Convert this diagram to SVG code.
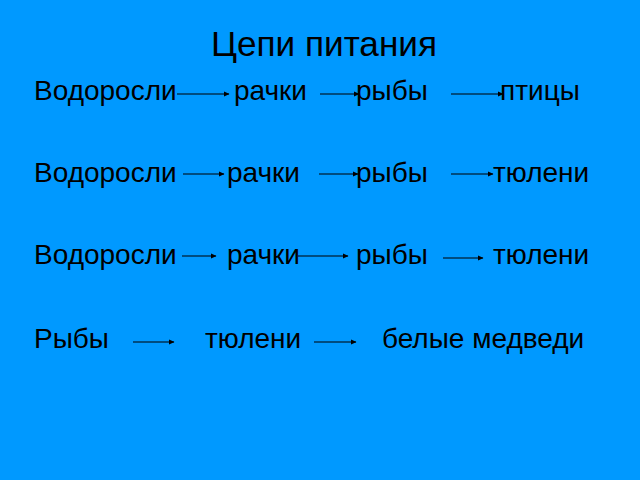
<svg xmlns="http://www.w3.org/2000/svg" width="640" height="480" viewBox="0 0 640 480">
<defs>
<marker id="ah" markerWidth="6" markerHeight="6" refX="5" refY="3" orient="auto" markerUnits="userSpaceOnUse"><path d="M0,0.5 L5.5,3 L0,5.5 Z" fill="#000"/></marker>
<style>
.t{font-family:"Liberation Sans",Arial,sans-serif;font-size:28px;fill:#000}
.h{font-family:"Liberation Sans",Arial,sans-serif;font-size:35px;fill:#000}
.c{stroke:#000;stroke-width:1.2;fill:none;marker-end:url(#ah)}
</style>
</defs>
<rect width="640" height="480" fill="#0099FF"/>
<text id="title" class="h" x="324" y="56" text-anchor="middle" textLength="226" lengthAdjust="spacingAndGlyphs">Цепи питания</text>
<g id="row1">
<text class="t" x="34" y="100">Водоросли</text>
<text class="t" x="234" y="100">рачки</text>
<text class="t" x="356" y="100">рыбы</text>
<text class="t" x="500" y="100">птицы</text>
</g>
<g id="row2">
<text class="t" x="34" y="182">Водоросли</text>
<text class="t" x="227" y="182">рачки</text>
<text class="t" x="356" y="182">рыбы</text>
<text class="t" x="493" y="182">тюлени</text>
</g>
<g id="row3">
<text class="t" x="34" y="264">Водоросли</text>
<text class="t" x="227" y="264">рачки</text>
<text class="t" x="356" y="264">рыбы</text>
<text class="t" x="493" y="264">тюлени</text>
</g>
<g id="row4">
<text class="t" x="34" y="348">Рыбы</text>
<text class="t" x="205" y="348">тюлени</text>
<text class="t" x="382" y="348">белые медведи</text>
</g>
<g id="connectors">
<line class="c" x1="177" y1="94" x2="229" y2="94"/>
<line class="c" x1="320" y1="94" x2="359" y2="94"/>
<line class="c" x1="451" y1="94" x2="503" y2="94"/>
<line class="c" x1="183" y1="174" x2="224" y2="174"/>
<line class="c" x1="319" y1="174" x2="358" y2="174"/>
<line class="c" x1="451" y1="174" x2="493" y2="174"/>
<line class="c" x1="182" y1="256" x2="216" y2="256"/>
<line class="c" x1="298" y1="256" x2="348" y2="256"/>
<line class="c" x1="443" y1="258" x2="483" y2="258"/>
<line class="c" x1="133" y1="342" x2="174" y2="342"/>
<line class="c" x1="314" y1="342" x2="356" y2="342"/>
</g>
</svg>
